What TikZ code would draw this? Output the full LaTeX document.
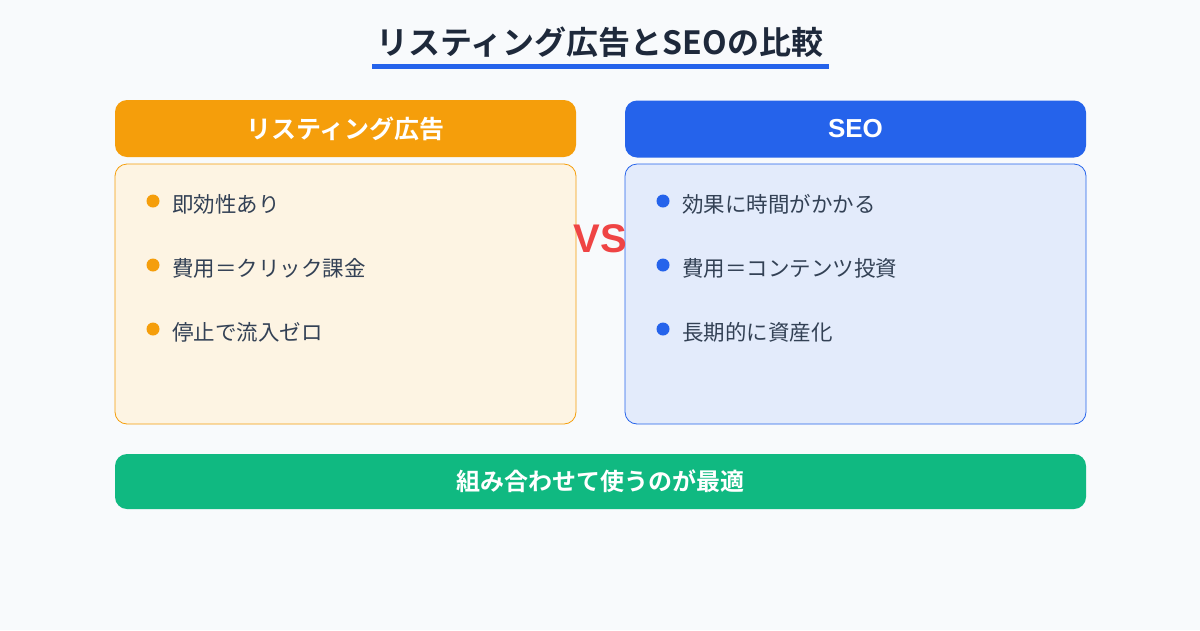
\documentclass[tikz,border=0pt]{standalone}
\usepackage{fontspec}
\setmainfont{Noto Sans CJK JP}[BoldFont={Noto Sans CJK JP Bold}]
\newfontfamily\latinfont{Liberation Sans}
\definecolor{bg}{HTML}{F8FAFC}
\definecolor{titlec}{HTML}{1E293B}
\definecolor{textc}{HTML}{334155}
\definecolor{blue}{HTML}{2563EB}
\definecolor{orange}{HTML}{F59E0B}
\definecolor{green}{HTML}{10B981}
\definecolor{red}{HTML}{EF4444}
\definecolor{orangebg}{HTML}{FDF4E3}
\definecolor{bluebg}{HTML}{E3EBFB}
\begin{document}
\begin{tikzpicture}[x=1pt,y=-1pt,
  hdr/.style={rounded corners=12pt, minimum width=461pt, minimum height=57pt, inner sep=0pt, text=white, font=\fontsize{25}{30}\selectfont\bfseries},
  body/.style={rounded corners=12pt, minimum width=461pt, minimum height=260pt, inner sep=0pt, line width=0.8pt},
  item/.style={anchor=west, inner sep=0pt, text=textc, font=\fontsize{21.5}{26}\selectfont},
  dot/.style={circle, inner sep=0pt, minimum size=13pt}
]
\fill[bg] (0,0) rectangle (1200,630);
\useasboundingbox (0,0) rectangle (1200,630);
\node[inner sep=0pt, text=titlec, font=\fontsize{32}{38}\selectfont\bfseries] (title) at (600,42) {リスティング広告とSEOの比較};
\fill[blue] (372,64) rectangle (829,69);
\coordinate (ul) at (600,66);
% left
\node[hdr, fill=orange] (lh) at (345.5,128.5) {リスティング広告};
\node[body, fill=orangebg, draw=orange] (lb) at (345.5,294) {};
\node[dot, fill=orange] (ld1) at (153,201) {};
\node[item] (lt1) at (172,204) {即効性あり};
\node[dot, fill=orange] (ld2) at (153,265) {};
\node[item] (lt2) at (172,268) {費用＝クリック課金};
\node[dot, fill=orange] (ld3) at (153,329) {};
\node[item] (lt3) at (172,332) {停止で流入ゼロ};
% right
\node[hdr, fill=blue, font=\fontsize{26}{30}\selectfont\latinfont\bfseries] (rh) at (855.5,129) {SEO};
\node[body, fill=bluebg, draw=blue] (rb) at (855.5,294) {};
\node[dot, fill=blue] (rd1) at (663,201) {};
\node[item] (rt1) at (682,204) {効果に時間がかかる};
\node[dot, fill=blue] (rd2) at (663,265) {};
\node[item] (rt2) at (682,268) {費用＝コンテンツ投資};
\node[dot, fill=blue] (rd3) at (663,329) {};
\node[item] (rt3) at (682,332) {長期的に資産化};
% vs
\node[inner sep=0pt, text=red, font=\fontsize{40}{48}\selectfont\latinfont\bfseries] (vs) at (600,239) {VS};
% bottom
\node[rounded corners=12pt, minimum width=971pt, minimum height=55pt, inner sep=0pt, fill=green, text=white, font=\fontsize{24}{29}\selectfont\bfseries] (bar) at (600.5,481.5) {組み合わせて使うのが最適};
\end{tikzpicture}
\end{document}
